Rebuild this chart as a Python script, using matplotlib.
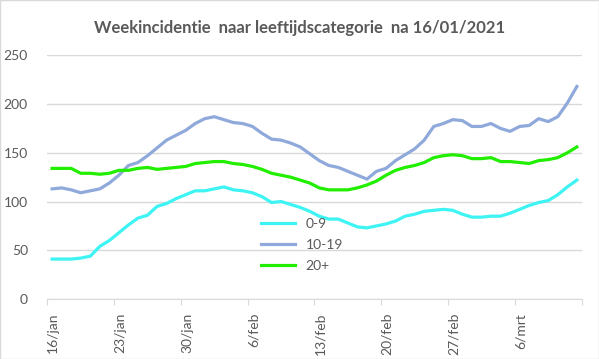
import matplotlib
matplotlib.use("Agg")
import matplotlib.pyplot as plt
from matplotlib.patches import Rectangle

# dagen vanaf 16/01/2021
tick_labels = ["16/jan", "23/jan", "30/jan", "6/feb", "13/feb", "20/feb", "27/feb", "6/mrt"]

leeftijd_0_9 = [41, 41, 41, 42, 44, 54, 60, 68, 76, 83, 86, 95, 98, 103, 107, 111,
                111, 113, 115, 112, 111, 109, 105, 99, 100, 97, 94, 90, 85, 82, 82, 78,
                74, 73, 75, 77, 80, 85, 87, 90, 91, 92, 91, 87, 84, 84, 85, 85,
                88, 92, 96, 99, 101, 107, 115, 122]
leeftijd_10_19 = [113, 114, 112, 109, 111, 113, 119, 127, 137, 140, 147, 155, 163, 168, 173, 180,
                  185, 187, 184, 181, 180, 177, 170, 164, 163, 160, 156, 149, 142, 137, 135, 131,
                  127, 123, 131, 134, 142, 148, 154, 163, 177, 180, 184, 183, 177, 177, 180, 175,
                  172, 177, 178, 185, 182, 187, 201, 218]
leeftijd_20_plus = [134, 134, 134, 129, 129, 128, 129, 132, 132, 134, 135, 133, 134, 135, 136, 139,
                    140, 141, 141, 139, 138, 136, 133, 129, 127, 125, 122, 119, 114, 112, 112, 112,
                    114, 117, 121, 127, 132, 135, 137, 140, 145, 147, 148, 147, 144, 144, 145, 141,
                    141, 140, 139, 142, 143, 145, 150, 156]

grijs = "#595959"
plt.rcParams['font.family'] = ['Lato', 'DejaVu Sans']

fig = plt.figure(figsize=(5.99, 3.59), dpi=100)
ax = fig.add_axes([0.079, 0.167, 0.892, 0.679])

n = len(leeftijd_0_9)
x = [i + 0.5 for i in range(n)]
ax.plot(x, leeftijd_0_9, color="#3DF3F3", lw=2.3, label="0-9")
ax.plot(x, leeftijd_10_19, color="#8FA9DB", lw=2.3, label="10-19")
ax.plot(x, leeftijd_20_plus, color="#22EE00", lw=2.3, label="20+")

ax.set_xlim(0, n)
ax.set_ylim(0, 250)
ax.set_yticks(range(0, 251, 50))
ax.grid(axis="y", color="#d9d9d9", lw=1)
ax.set_axisbelow(True)

ax.set_xticks(range(0, n + 1, 7))
ax.set_xticklabels(tick_labels + [""], rotation=90, ha="left", va="top")
ax.tick_params(axis="x", colors="#d9d9d9", length=4, labelcolor=grijs, labelsize=10, pad=6)
ax.tick_params(axis="y", length=0, labelcolor=grijs, labelsize=10, pad=14)

for s in ["left", "right", "top"]:
    ax.spines[s].set_visible(False)
ax.spines["bottom"].set_color("#d9d9d9")

fig.suptitle("Weekincidentie  naar leeftijdscategorie  na 16/01/2021",
             x=0.5, y=0.945, fontsize=12, fontweight="bold", color=grijs)

leg = ax.legend(loc="upper left", bbox_to_anchor=(0.39, 0.355), frameon=False,
                handlelength=2.4, labelspacing=0.65, fontsize=10, borderaxespad=0)
for t in leg.get_texts():
    t.set_color(grijs)

fig.patches.append(Rectangle((0, 0), 1, 1, transform=fig.transFigure, fill=False,
                             edgecolor="#d9d9d9", lw=1))

fig.savefig("out.png", dpi=100)
